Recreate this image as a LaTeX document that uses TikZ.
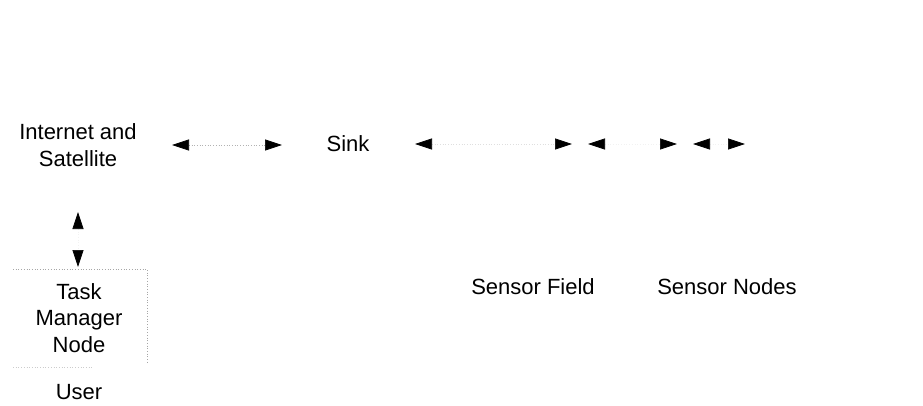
\documentclass[tikz,border=0pt]{standalone}
\usepackage{fontspec}
\setmainfont{Liberation Sans}
\usetikzlibrary{arrows.meta}

\tikzset{
  lbl/.style={inner sep=0pt, align=center,
    font=\fontsize{22}{26.5}\selectfont},
  hop/.style={draw=gray!60, dotted, line width=0.7pt,
    {Triangle[length=17pt,width=11pt,color=black]}-{Triangle[length=17pt,width=11pt,color=black]}},
  faint/.style={draw=gray!70, dotted, line width=0.7pt}
}

\begin{document}
\begin{tikzpicture}[x=1pt,y=-1pt]
  \useasboundingbox[fill=white] (0,0) rectangle (923,406);

  % labels
  \node[lbl] (inet)   at (78,145)  {Internet and\\Satellite};
  \node[lbl] (sink)   at (348,144) {Sink};
  \node[lbl] (task)   at (79,318)  {Task\\Manager\\Node};
  \node[lbl] (user)   at (79,392)  {User};
  \node[lbl] (field)  at (533,287) {Sensor Field};
  \node[lbl] (snodes) at (727,287) {Sensor Nodes};

  % end points of the links
  \coordinate (i1) at (172,145);
  \coordinate (i2) at (282,145);
  \coordinate (s1) at (415,144);
  \coordinate (s2) at (572,144);
  \coordinate (s3) at (588,144);
  \coordinate (s4) at (677,144);
  \coordinate (s5) at (693,144);
  \coordinate (s6) at (745,144);
  \coordinate (v1) at (78,212);
  \coordinate (v2) at (78,267);

  % links
  \draw[hop] (i1) -- (i2);
  \draw[hop, draw=gray!25] (s1) -- (s2);
  \draw[hop, draw=gray!10] (s3) -- (s4);
  \draw[hop, draw=gray!10] (s5) -- (s6);
  \draw[hop, draw=gray!10] (v1) -- (v2);

  % frame of the task manager node
  \coordinate (bTL) at (13,269);
  \coordinate (bTR) at (147,269);
  \coordinate (bBR) at (147,363);
  \coordinate (bBL) at (13,367);
  \coordinate (bBM) at (92,367);
  \draw[faint] (bTL) -- (bTR) -- (bBR);
  \draw[faint, draw=gray!40] (bBL) -- (bBM);
\end{tikzpicture}
\end{document}
